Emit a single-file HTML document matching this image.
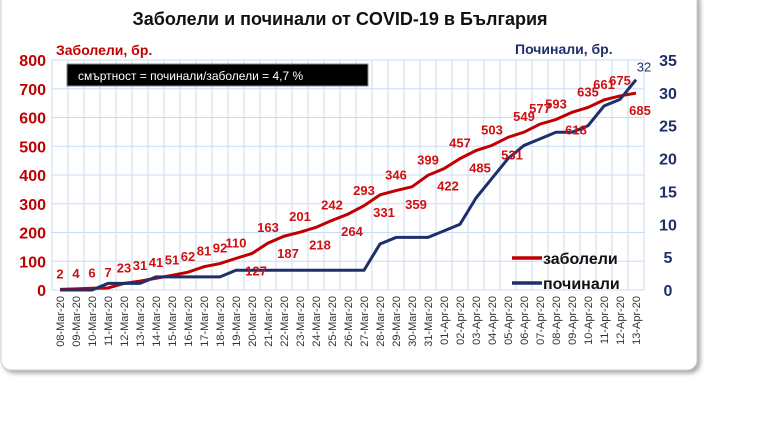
<!DOCTYPE html>
<html><head><meta charset="utf-8"><style>
body{margin:0;background:#fff;width:768px;height:429px;overflow:hidden;font-family:"Liberation Sans",sans-serif}
</style></head><body>
<svg width="768" height="429" xmlns="http://www.w3.org/2000/svg" id="svg">
<defs><filter id="sh" x="-5%" y="-5%" width="110%" height="110%"><feDropShadow dx="3" dy="3" stdDeviation="2" flood-color="#888" flood-opacity="0.7"/></filter></defs>
<rect x="1" y="-10" width="696" height="380" rx="10" fill="#fff" stroke="#ccc" filter="url(#sh)"/>
<text x="340" y="25" text-anchor="middle" font-size="18" font-weight="bold" fill="#111">Заболели и починали от COVID-19 в България</text>
<text x="56" y="55" font-size="14" font-weight="bold" fill="#c00000">Заболели, бр.</text>
<text x="515" y="54" font-size="14" font-weight="bold" fill="#1f2f6a">Починали, бр.</text>
<g id="grid"></g>
<g id="axes"></g>
<g id="lines"></g>
<g id="labels"></g>
<rect x="67" y="64" width="301" height="22" fill="#000" stroke="#888"/>
<text x="78" y="80" font-size="12" fill="#fff">смъртност = починали/заболели = 4,7 %</text>
<g>
<line x1="512" y1="258" x2="542" y2="258" stroke="#c00000" stroke-width="3.5"/>
<text x="543" y="264" font-size="16" font-weight="bold" fill="#111">заболели</text>
<line x1="512" y1="283" x2="542" y2="283" stroke="#1f2f6a" stroke-width="3.5"/>
<text x="543" y="289" font-size="16" font-weight="bold" fill="#111">починали</text>
</g>
</svg>
<script>
const dates=["08-Mar-20","09-Mar-20","10-Mar-20","11-Mar-20","12-Mar-20","13-Mar-20","14-Mar-20","15-Mar-20","16-Mar-20","17-Mar-20","18-Mar-20","19-Mar-20","20-Mar-20","21-Mar-20","22-Mar-20","23-Mar-20","24-Mar-20","25-Mar-20","26-Mar-20","27-Mar-20","28-Mar-20","29-Mar-20","30-Mar-20","31-Mar-20","01-Apr-20","02-Apr-20","03-Apr-20","04-Apr-20","05-Apr-20","06-Apr-20","07-Apr-20","08-Apr-20","09-Apr-20","10-Apr-20","11-Apr-20","12-Apr-20","13-Apr-20"];
const cases=[2,4,6,7,23,31,41,51,62,81,92,110,127,163,187,201,218,242,264,293,331,346,359,399,422,457,485,503,531,549,577,593,618,635,661,675,685];
const deaths=[0,0,0,1,1,1,2,2,2,2,2,3,3,3,3,3,3,3,3,3,7,8,8,8,9,10,14,17,20,22,23,24,24,25,28,29,32];
const caseBelow=[127,187,218,264,331,359,422,485,531,618,685];
const leftTicks=[0,100,200,300,400,500,600,700,800];
const rightTicks=[0,5,10,15,20,25,30,35];
const X0=60,X1=636,Y0=290,Y1=60;
const x=i=>X0+(X1-X0)*i/(dates.length-1);
const yl=v=>Y0-(Y0-Y1)*v/800;
const yr=v=>Y0-(Y0-Y1)*v/35;
const NS="http://www.w3.org/2000/svg";
function mk(t,a,p){const e=document.createElementNS(NS,t);for(const k in a)e.setAttribute(k,a[k]);p.appendChild(e);return e;}
const grid=document.getElementById('grid'),axes=document.getElementById('axes'),lines=document.getElementById('lines'),labels=document.getElementById('labels');
for(let i=0;i<dates.length;i++){
 const g=mk('line',{x1:x(i)+8,x2:x(i)+8,y1:Y1,y2:Y0,stroke:'#c9dcf2','stroke-width':1},grid);
 
 
 const t=mk('text',{x:0,y:0,'font-size':11,fill:'#333','text-anchor':'end',transform:`translate(${x(i)+4},296) rotate(-90)`},axes);
 t.textContent=dates[i];
 
 
}
mk('line',{x1:X0-8,x2:X0-8,y1:Y1,y2:Y0,stroke:'#c9dcf2'},grid);
for(const v of leftTicks){
 const g=mk('line',{x1:X0-8,x2:X1+8,y1:yl(v),y2:yl(v),stroke:'#c9dcf2'},grid);
 
 
 const t=mk('text',{x:46,y:yl(v)+6,'font-size':16,'font-weight':'bold',fill:'#c00000','text-anchor':'end'},axes);
 t.textContent=v;
 
 
}
for(const v of rightTicks){
 const t=mk('text',{x:668,y:yr(v)+6,'font-size':16,'font-weight':'bold',fill:'#1f2f6a','text-anchor':'middle'},axes);
 t.textContent=v;
 
 
}
const pc=mk('polyline',{points:cases.map((v,i)=>x(i)+','+yl(v)).join(' '),fill:'none',stroke:'#c00000','stroke-width':3},lines);


const pd=mk('polyline',{points:deaths.map((v,i)=>x(i)+','+yr(v)).join(' '),fill:'none',stroke:'#1f2f6a','stroke-width':3},lines);


cases.forEach((v,i)=>{
 const below=caseBelow.includes(v);
 const t=mk('text',{x:x(i)+(below?4:0),y:below?yl(v)+22:yl(v)-11,'font-size':13,'font-weight':'bold',fill:'#d01010','text-anchor':'middle'},labels);
 t.textContent=v;
 
 
});
const dl=mk('text',{x:x(deaths.length-1)+8,y:yr(deaths[deaths.length-1])-8,'font-size':13,fill:'#1f2f6a','text-anchor':'middle'},labels);
dl.textContent=deaths[deaths.length-1];


</script>
</body></html>
